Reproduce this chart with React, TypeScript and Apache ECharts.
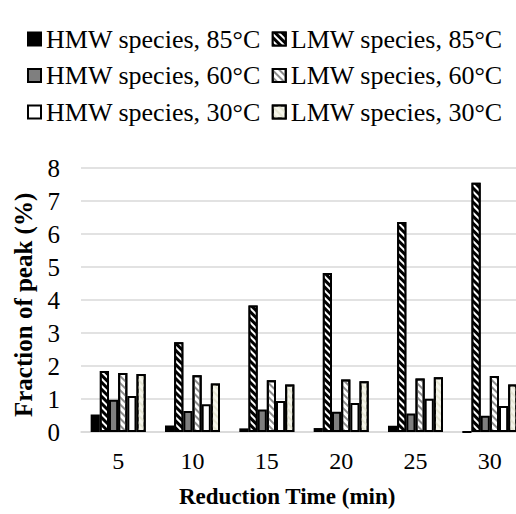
import React, { useEffect, useRef } from "react";
import * as echarts from "echarts";

const categories = ["5", "10", "15", "20", "25", "30"];
const seriesNames = [
  "HMW species, 85°C",
  "LMW species, 85°C",
  "HMW species, 60°C",
  "LMW species, 60°C",
  "HMW species, 30°C",
  "LMW species, 30°C",
];
const hmw85 = [0.53, 0.2, 0.11, 0.12, 0.19, 0];
const lmw85 = [1.85, 2.72, 3.83, 4.82, 6.36, 7.55];
const hmw60 = [0.98, 0.64, 0.68, 0.61, 0.56, 0.49];
const lmw60 = [1.79, 1.72, 1.57, 1.59, 1.62, 1.7];
const hmw30 = [1.09, 0.84, 0.94, 0.88, 1.01, 0.79];
const lmw30 = [1.76, 1.47, 1.44, 1.54, 1.66, 1.44];
const yTicks = [0, 1, 2, 3, 4, 5, 6, 7, 8];

const SERIF = "Liberation Serif";

// Diagonal hatch drawn over a bar's base fill
const stripes = (color: string) => ({
  symbol: "rect",
  symbolSize: 1,
  color,
  dashArrayX: [1, 0],
  dashArrayY: [2, 3],
  rotation: Math.PI / 4,
});

const styles = [
  { color: "#000000" },
  { color: "#000000", decal: stripes("#ffffff") },
  { color: "#7f7f7f" },
  { color: "#ffffff", decal: stripes("#8c8c8c") },
  { color: "#ffffff" },
  { color: "#f4f4ea", decal: stripes("#e4e4d2") },
];

const values = [hmw85, lmw85, hmw60, lmw60, hmw30, lmw30];

export default function App() {
  const ref = useRef<HTMLDivElement>(null);
  useEffect(() => {
    if (!ref.current) return;
    const chart = echarts.init(ref.current, undefined, { renderer: "svg" });
    const legendBase = {
      left: 27,
      itemWidth: 13,
      itemHeight: 13,
      itemGap: 11,
      icon: "rect",
      selectedMode: false,
      padding: 0,
      textStyle: { fontFamily: SERIF, fontSize: 26, color: "#000" },
    };
    chart.setOption({
      animation: false,
      backgroundColor: "#fff",
      textStyle: { fontFamily: SERIF },
      legend: [
        { ...legendBase, top: 26, data: seriesNames.slice(0, 2) },
        { ...legendBase, top: 62.5, data: seriesNames.slice(2, 4) },
        { ...legendBase, top: 99, data: seriesNames.slice(4, 6) },
      ],
      // the plot runs a little past the visible right edge
      grid: { left: 81, top: 168, width: 446, height: 264, containLabel: false },
      xAxis: {
        type: "category",
        data: categories,
        axisLine: { lineStyle: { color: "#d9d9d9", width: 1.5 } },
        axisTick: { show: false },
        axisLabel: { fontFamily: SERIF, fontSize: 24, color: "#000", margin: 17 },
      },
      yAxis: {
        type: "value",
        min: yTicks[0],
        max: yTicks[yTicks.length - 1],
        interval: 1,
        axisLine: { show: false },
        axisTick: { show: false },
        splitLine: { lineStyle: { color: "#d9d9d9", width: 1.5 } },
        axisLabel: { fontFamily: SERIF, fontSize: 25, color: "#000", margin: 21 },
      },
      graphic: [
        {
          type: "text",
          left: 179,
          top: 485,
          style: {
            text: "Reduction Time (min)",
            fontFamily: SERIF,
            fontWeight: "bold",
            fontSize: 23,
            fill: "#000",
          },
        },
        {
          type: "text",
          x: 11,
          y: 417,
          rotation: Math.PI / 2,
          style: {
            text: "Fraction of peak (%)",
            fontFamily: SERIF,
            fontWeight: "bold",
            fontSize: 25,
            fill: "#000",
          },
        },
      ],
      series: seriesNames.map((name, i) => ({
        name,
        type: "bar",
        data: values[i],
        barGap: "0%",
        barCategoryGap: "26%",
        itemStyle: {
          ...styles[i],
          borderColor: "#000",
          borderWidth: 2,
        },
      })),
    });
    return () => chart.dispose();
  }, []);
  return (
    <div style={{ position: "absolute", left: 0, top: 0, width: 516, height: 514, overflow: "hidden", background: "#fff" }}>
      <div ref={ref} style={{ width: 540, height: 514 }} />
    </div>
  );
}
